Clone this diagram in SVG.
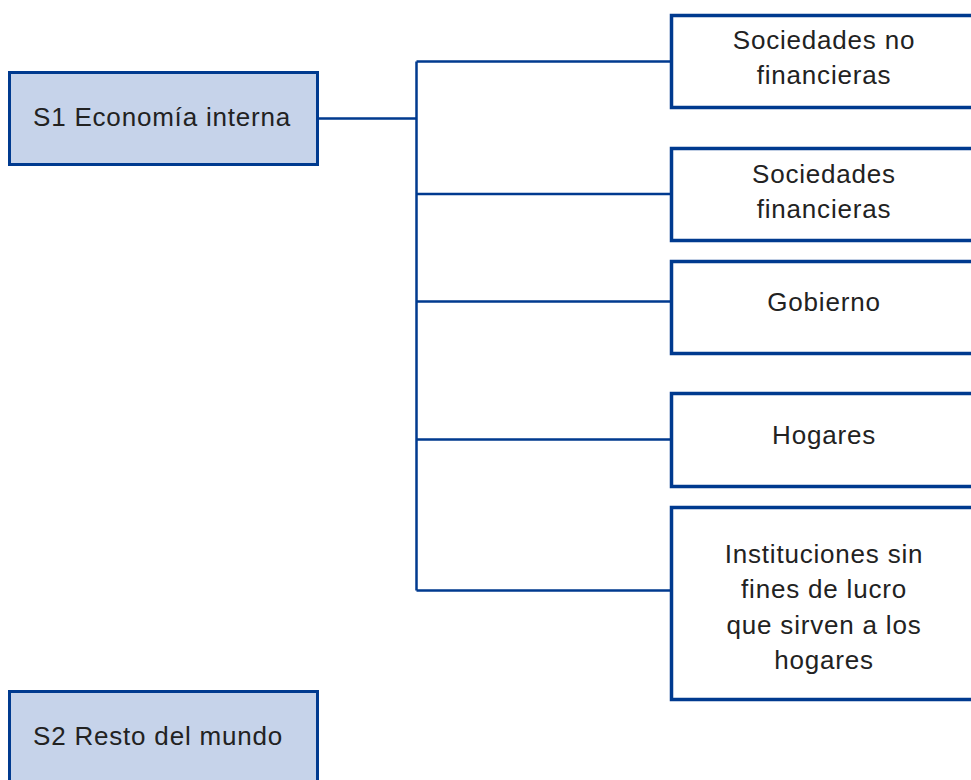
<svg xmlns="http://www.w3.org/2000/svg" width="971" height="780" viewBox="0 0 971 780">
<style>
.sec{fill:#c6d3ea;stroke:#003a8f;stroke-width:3}
.sub{fill:#ffffff;stroke:#003a8f;stroke-width:3.5}
.t{font-family:"Liberation Sans",Arial,sans-serif;font-size:26px;fill:#222222;letter-spacing:0.8px}
.c{text-anchor:middle}
.con{fill:none;stroke:#003a8f;stroke-width:2.5}
</style>
<rect width="971" height="780" fill="#ffffff"/>
<g id="connectors">
<path class="con" d="M318 118.5H416.5M416.5 61.5V590.5M416.5 61.5H671M416.5 194H671M416.5 301.5H671M416.5 439.5H671M416.5 590.5H671"/>
</g>
<g id="s1">
<rect class="sec" x="9.5" y="72.5" width="308" height="92"/>
<text class="t" x="33" y="126">S1 Economía interna</text>
</g>
<g id="s2">
<rect class="sec" x="9.5" y="691.5" width="308" height="100"/>
<text class="t" x="33" y="745">S2 Resto del mundo</text>
</g>
<g id="snf">
<rect class="sub" x="671.5" y="15.5" width="310" height="92"/>
<text class="t c" x="824" y="49">Sociedades no</text>
<text class="t c" x="824" y="84">financieras</text>
</g>
<g id="sf">
<rect class="sub" x="671.5" y="148.5" width="310" height="92"/>
<text class="t c" x="824" y="183">Sociedades</text>
<text class="t c" x="824" y="218">financieras</text>
</g>
<g id="gob">
<rect class="sub" x="671.5" y="261.5" width="310" height="92"/>
<text class="t c" x="824" y="311">Gobierno</text>
</g>
<g id="hog">
<rect class="sub" x="671.5" y="393.5" width="310" height="93"/>
<text class="t c" x="824" y="444">Hogares</text>
</g>
<g id="isflsh">
<rect class="sub" x="671.5" y="507.5" width="310" height="192"/>
<text class="t c" x="824" y="563">Instituciones sin</text>
<text class="t c" x="824" y="598">fines de lucro</text>
<text class="t c" x="824" y="634">que sirven a los</text>
<text class="t c" x="824" y="669">hogares</text>
</g>
</svg>
